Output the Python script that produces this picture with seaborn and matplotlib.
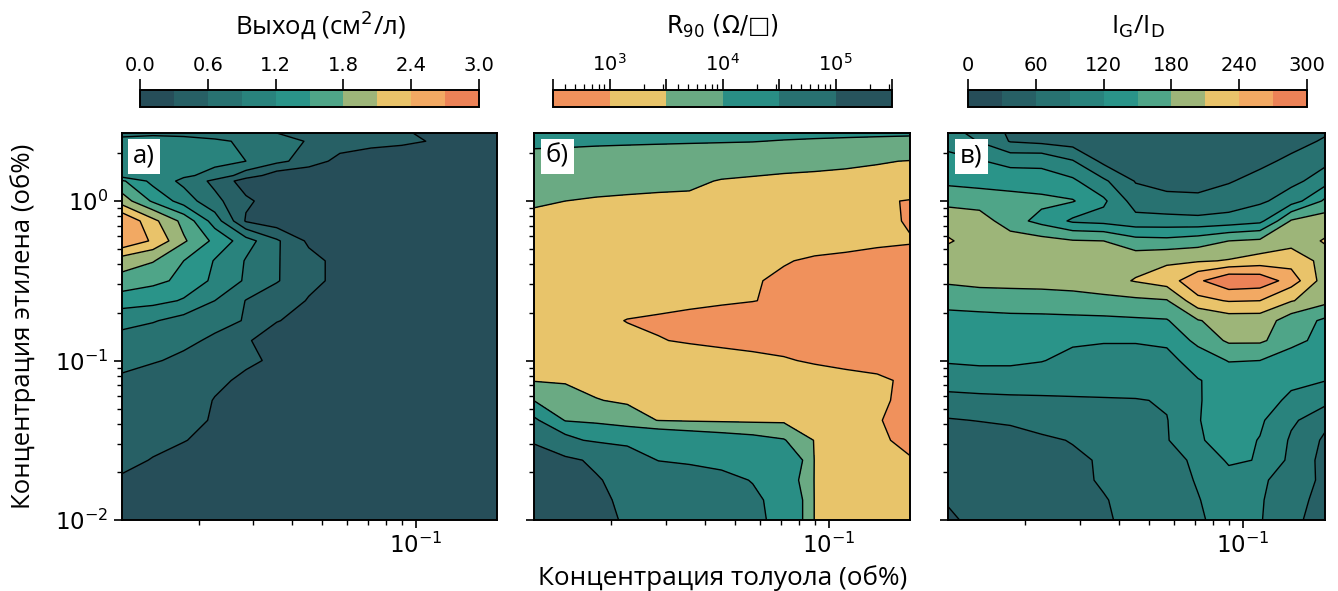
import numpy as np
import matplotlib
matplotlib.use("Agg")
import matplotlib.pyplot as plt
from matplotlib.colors import LinearSegmentedColormap, LogNorm
from matplotlib.ticker import NullFormatter
import seaborn as sns

# ---------------------------------------------------------------------------
# Measured maps on a toluene x ethylene grid (vol. %), rows = ethylene
# ---------------------------------------------------------------------------
toluene = [0.01132, 0.01426, 0.01791, 0.02254, 0.02838, 0.03565, 0.04519,
           0.05689, 0.07161, 0.08995, 0.1132, 0.1426, 0.1824]

ethylene = [0.01, 0.01334, 0.01778, 0.02371, 0.03162, 0.04217, 0.05623,
            0.07499, 0.1, 0.1334, 0.1778, 0.2371, 0.3162, 0.4217, 0.5623,
            0.7499, 1.0, 1.334, 1.778, 2.371, 2.67]

# yield map has one extra row just above 1.33 %
ethylene_yield = [0.01, 0.01334, 0.01778, 0.02371, 0.03162, 0.04217, 0.05623,
                  0.07499, 0.1, 0.1334, 0.1778, 0.2371, 0.3162, 0.4217,
                  0.5623, 0.7499, 1.0, 1.334, 1.445, 1.778, 2.371, 2.67]

# a) graphene yield, cm^2 per litre of gas
yield_cm2 = [
    [0.20, 0.18, 0.15, 0.12, 0.10, 0.10, 0.10, 0.10, 0.10, 0.10, 0.10, 0.10, 0.10],
    [0.24, 0.20, 0.17, 0.14, 0.10, 0.10, 0.10, 0.10, 0.10, 0.10, 0.10, 0.10, 0.10],
    [0.28, 0.25, 0.20, 0.16, 0.12, 0.10, 0.10, 0.10, 0.10, 0.10, 0.10, 0.10, 0.10],
    [0.35, 0.29, 0.22, 0.17, 0.13, 0.10, 0.10, 0.10, 0.10, 0.10, 0.10, 0.10, 0.10],
    [0.42, 0.36, 0.31, 0.22, 0.15, 0.10, 0.10, 0.10, 0.10, 0.10, 0.10, 0.10, 0.10],
    [0.50, 0.42, 0.36, 0.28, 0.18, 0.10, 0.10, 0.10, 0.10, 0.10, 0.10, 0.10, 0.10],
    [0.55, 0.47, 0.40, 0.29, 0.18, 0.12, 0.10, 0.10, 0.10, 0.10, 0.10, 0.10, 0.10],
    [0.57, 0.50, 0.43, 0.35, 0.25, 0.15, 0.10, 0.10, 0.10, 0.10, 0.10, 0.10, 0.10],
    [0.66, 0.62, 0.55, 0.45, 0.35, 0.25, 0.15, 0.10, 0.10, 0.10, 0.10, 0.10, 0.10],
    [0.80, 0.75, 0.66, 0.55, 0.32, 0.20, 0.12, 0.10, 0.10, 0.10, 0.10, 0.10, 0.10],
    [1.00, 0.92, 0.80, 0.70, 0.58, 0.31, 0.22, 0.15, 0.10, 0.10, 0.10, 0.10, 0.10],
    [1.35, 1.30, 1.17, 0.90, 0.59, 0.45, 0.28, 0.15, 0.10, 0.10, 0.10, 0.10, 0.10],
    [1.70, 1.58, 1.42, 1.13, 0.86, 0.62, 0.38, 0.22, 0.12, 0.10, 0.10, 0.10, 0.10],
    [1.95, 1.82, 1.50, 1.18, 0.88, 0.62, 0.40, 0.20, 0.10, 0.10, 0.10, 0.10, 0.10],
    [2.68, 2.35, 1.84, 1.42, 1.02, 0.64, 0.24, 0.12, 0.10, 0.10, 0.10, 0.10, 0.10],
    [2.68, 2.18, 1.70, 1.05, 0.27, 0.10, 0.10, 0.10, 0.10, 0.10, 0.10, 0.10, 0.10],
    [1.95, 1.45, 1.05, 0.68, 0.35, 0.15, 0.10, 0.10, 0.10, 0.10, 0.10, 0.10, 0.10],
    [1.55, 1.10, 0.82, 0.52, 0.15, 0.10, 0.10, 0.10, 0.10, 0.10, 0.10, 0.10, 0.10],
    [1.05, 1.00, 0.95, 0.80, 0.45, 0.15, 0.10, 0.10, 0.10, 0.10, 0.10, 0.10, 0.10],
    [1.10, 1.10, 1.05, 0.98, 0.90, 0.68, 0.45, 0.20, 0.10, 0.10, 0.10, 0.10, 0.10],
    [0.95, 1.00, 1.00, 0.95, 0.85, 0.70, 0.58, 0.48, 0.42, 0.36, 0.28, 0.15, 0.10],
    [0.85, 0.85, 0.82, 0.76, 0.68, 0.60, 0.52, 0.45, 0.40, 0.34, 0.22, 0.12, 0.10],
]

# b) sheet resistance R90, log10 of Ohm/sq
log_r90 = [
    [5.30, 5.20, 5.08, 4.96, 4.85, 4.78, 4.70, 4.60, 4.30, 3.45, 3.30, 3.20, 3.15],
    [5.28, 5.18, 5.05, 4.94, 4.84, 4.76, 4.67, 4.57, 4.30, 3.45, 3.30, 3.20, 3.15],
    [5.25, 5.15, 5.02, 4.90, 4.82, 4.72, 4.60, 4.48, 4.20, 3.45, 3.30, 3.25, 3.20],
    [5.15, 5.05, 4.95, 4.75, 4.48, 4.40, 4.35, 4.30, 4.30, 3.45, 3.20, 3.10, 3.02],
    [4.95, 4.60, 4.40, 4.30, 4.25, 4.20, 4.15, 4.10, 4.02, 3.45, 3.30, 3.05, 2.90],
    [4.55, 3.95, 3.85, 3.70, 3.48, 3.40, 3.35, 3.30, 3.30, 3.25, 3.15, 3.02, 2.85],
    [3.98, 3.85, 3.52, 3.42, 3.35, 3.30, 3.28, 3.25, 3.22, 3.18, 3.12, 3.05, 2.90],
    [3.45, 3.35, 3.30, 3.28, 3.26, 3.24, 3.22, 3.20, 3.18, 3.15, 3.10, 3.05, 2.93],
    [3.30, 3.30, 3.28, 3.25, 3.22, 3.18, 3.12, 3.08, 3.03, 2.95, 2.88, 2.85, 2.85],
    [3.30, 3.28, 3.22, 3.12, 3.02, 2.95, 2.90, 2.85, 2.82, 2.78, 2.75, 2.72, 2.75],
    [3.30, 3.25, 3.12, 2.98, 2.92, 2.85, 2.80, 2.75, 2.72, 2.70, 2.68, 2.65, 2.70],
    [3.30, 3.28, 3.25, 3.20, 3.15, 3.10, 3.05, 3.01, 2.93, 2.85, 2.80, 2.75, 2.75],
    [3.30, 3.28, 3.26, 3.22, 3.18, 3.14, 3.10, 3.02, 2.95, 2.85, 2.80, 2.78, 2.78],
    [3.35, 3.33, 3.30, 3.28, 3.25, 3.20, 3.15, 3.10, 3.02, 2.95, 2.92, 2.90, 2.90],
    [3.38, 3.36, 3.34, 3.32, 3.30, 3.28, 3.25, 3.22, 3.18, 3.14, 3.10, 3.05, 3.02],
    [3.40, 3.38, 3.36, 3.34, 3.32, 3.30, 3.28, 3.25, 3.22, 3.18, 3.14, 3.10, 2.95],
    [3.55, 3.50, 3.45, 3.42, 3.42, 3.45, 3.36, 3.30, 3.25, 3.20, 3.15, 3.05, 2.97],
    [3.70, 3.70, 3.68, 3.65, 3.60, 3.55, 3.48, 3.45, 3.42, 3.40, 3.38, 3.35, 3.30],
    [3.80, 3.80, 3.78, 3.75, 3.72, 3.70, 3.68, 3.65, 3.62, 3.60, 3.57, 3.53, 3.48],
    [4.10, 4.08, 4.06, 4.05, 4.04, 4.03, 4.02, 4.01, 3.98, 3.96, 3.94, 3.92, 3.90],
    [4.20, 4.18, 4.16, 4.15, 4.14, 4.13, 4.12, 4.11, 4.10, 4.08, 4.07, 4.06, 4.05],
]

# c) Raman G/D intensity ratio
ig_id = [
    [25, 40, 45, 50, 55, 58, 65, 75, 87, 100, 92, 65, 50],
    [33, 40, 45, 50, 55, 59, 66, 77, 89, 102, 93, 68, 52],
    [36, 42, 46, 51, 56, 62, 70, 80, 92, 108, 96, 72, 55],
    [40, 44, 48, 52, 57, 62, 72, 82, 95, 125, 118, 82, 50],
    [42, 46, 50, 57, 61, 68, 78, 88, 118, 128, 119, 86, 55],
    [58, 61, 64, 68, 72, 78, 84, 89, 119, 132, 124, 95, 70],
    [80, 82, 84, 85, 86, 87, 88, 93, 118, 135, 130, 115, 100],
    [105, 108, 108, 108, 109, 110, 112, 115, 119, 128, 130, 126, 121],
    [123, 125, 125, 121, 113, 110, 110, 114, 130, 152, 150, 135, 128],
    [128, 130, 130, 128, 124, 122, 122, 124, 160, 185, 185, 160, 138],
    [140, 141, 142, 142, 143, 144, 146, 148, 178, 195, 195, 165, 145],
    [160, 163, 166, 168, 170, 172, 175, 178, 232, 242, 240, 212, 190],
    [185, 190, 190, 190, 192, 200, 212, 225, 265, 295, 290, 255, 195],
    [200, 198, 197, 196, 195, 195, 198, 205, 207, 212, 222, 228, 200],
    [212, 200, 195, 190, 182, 180, 160, 158, 165, 180, 185, 198, 212],
    [200, 195, 162, 140, 115, 110, 100, 100, 98, 102, 112, 183, 195],
    [170, 165, 160, 158, 152, 125, 75, 68, 66, 72, 85, 105, 155],
    [143, 140, 138, 132, 125, 95, 58, 50, 50, 58, 70, 82, 105],
    [128, 122, 110, 112, 92, 52, 40, 38, 37, 40, 52, 68, 82],
    [110, 88, 58, 52, 45, 38, 36, 35, 35, 36, 38, 45, 65],
    [100, 80, 55, 45, 40, 37, 35, 34, 34, 34, 36, 40, 55],
]

yield_levels = [0.0, 0.3, 0.6, 0.9, 1.2, 1.5, 1.8, 2.1, 2.4, 2.7, 3.0]
yield_ticks = [0.0, 0.6, 1.2, 1.8, 2.4, 3.0]
r90_levels = [10 ** 2.5, 10 ** 3.0, 10 ** 3.5, 10 ** 4.0, 10 ** 4.5, 10 ** 5.0, 10 ** 5.5]
ratio_levels = [0, 30, 60, 90, 120, 150, 180, 210, 240, 270, 300]
ratio_ticks = [0, 60, 120, 180, 240, 300]

panel_letters = ["а)", "б)", "в)"]
cbar_titles = ["Выход (см$^{2}$/л)", "R$_{90}$ (Ω/□)",
               "I$_{\\mathrm{G}}$/I$_{\\mathrm{D}}$"]

# ---------------------------------------------------------------------------
sns.set_style("ticks", {"axes.edgecolor": "black", "text.color": "black",
                        "axes.labelcolor": "black",
                        "xtick.color": "black", "ytick.color": "black",
                        "xtick.direction": "out", "ytick.direction": "out"})
plt.rcParams["font.family"] = ["DejaVu Sans"]
plt.rcParams["axes.linewidth"] = 1.4
LABEL_FONT = ["Open Sans", "DejaVu Sans"]
title_fonts = [LABEL_FONT, ["DejaVu Sans"], LABEL_FONT]

cmap = LinearSegmentedColormap.from_list(
    "teal_sunset",
    [(0.0, "#264653"), (0.5, "#2a9d8f"), (0.75, "#e9c46a"),
     (0.875, "#f4a261"), (1.0, "#e76f51")])

W, H = 1338, 591
fig = plt.figure(figsize=(W / 100, H / 100), dpi=100)


def place(left, top, right, bottom):
    return [left / W, 1 - bottom / H, (right - left) / W, (bottom - top) / H]


ax_spans = [(121.7, 497.3), (534.0, 910.5), (948.3, 1324.5)]
cb_spans = [(140.0, 479.0), (553.0, 892.0), (968.0, 1307.0)]
title_x = [320.0, 722.5, 1137.5]

axes = [fig.add_axes(place(l, 133, r, 520)) for l, r in ax_spans]
caxes = [fig.add_axes(place(l, 90, r, 107)) for l, r in cb_spans]

line_kw = dict(colors="black", linewidths=1.0)

# a) yield
ax = axes[0]
cs_a = ax.contourf(toluene, ethylene_yield, yield_cm2, levels=yield_levels, cmap=cmap)
ax.contour(toluene, ethylene_yield, yield_cm2, levels=yield_levels, **line_kw)

# b) sheet resistance
ax = axes[1]
r90 = 10 ** np.asarray(log_r90)
norm_b = LogNorm(vmin=r90_levels[0], vmax=r90_levels[-1])
cs_b = ax.contourf(toluene, ethylene, r90, levels=r90_levels, norm=norm_b,
                   cmap=cmap.reversed())
ax.contour(toluene, ethylene, r90, levels=r90_levels, **line_kw)

# c) G/D ratio
ax = axes[2]
cs_c = ax.contourf(toluene, ethylene, ig_id, levels=ratio_levels, cmap=cmap)
ax.contour(toluene, ethylene, ig_id, levels=ratio_levels, **line_kw)

for i, ax in enumerate(axes):
    ax.set_xscale("log")
    ax.set_yscale("log")
    ax.set_xlim(toluene[0], toluene[-1])
    ax.set_ylim(ethylene[0], ethylene[-1])
    ax.xaxis.set_minor_formatter(NullFormatter())
    ax.yaxis.set_minor_formatter(NullFormatter())
    ax.tick_params(which="major", length=6, width=1.2, labelsize=16.5)
    ax.tick_params(which="minor", length=3.5, width=1.0)
    if i > 0:
        ax.tick_params(axis="y", labelleft=False)
    for s in ax.spines.values():
        s.set_linewidth(1.4)
    ax.text(0.031, 0.972, panel_letters[i], transform=ax.transAxes,
            ha="left", va="top", fontsize=18.5, family=LABEL_FONT,
            bbox=dict(boxstyle="square,pad=0.2", facecolor="white",
                      edgecolor="none"), zorder=5)

axes[0].set_ylabel("Концентрация этилена (об%)", fontsize=18.5,
                   family=LABEL_FONT, labelpad=14)
axes[1].set_xlabel("Концентрация толуола (об%)", fontsize=18.8,
                   family=LABEL_FONT, labelpad=5)

# colour bars on top
for cs, cax, title, fam, ticks, tx in zip(
        [cs_a, cs_b, cs_c], caxes, cbar_titles, title_fonts,
        [yield_ticks, None, ratio_ticks], title_x):
    cb = fig.colorbar(cs, cax=cax, orientation="horizontal")
    if ticks is not None:
        cb.set_ticks(ticks)
    else:
        cb.minorticks_on()
    cax.xaxis.set_ticks_position("top")
    cax.tick_params(which="major", length=8, width=1.2, labelsize=14, pad=3)
    cax.tick_params(which="minor", length=4, width=0.9)
    cb.outline.set_linewidth(1.4)
    fig.text(tx / W, 1 - 33.5 / H, title, ha="center", va="baseline",
             fontsize=18.5 if fam is LABEL_FONT else 17, family=fam)

fig.savefig("out.png", dpi=100)
